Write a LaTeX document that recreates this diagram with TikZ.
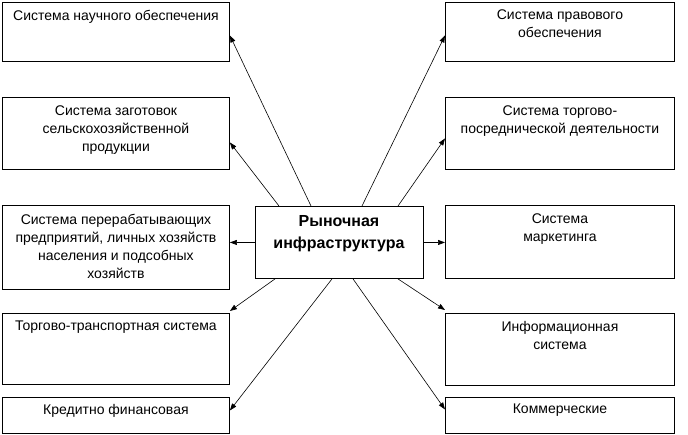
\documentclass[tikz,border=0pt]{standalone}
\usepackage{fontspec}
\setmainfont{Liberation Sans}
\usetikzlibrary{arrows.meta}
\begin{document}
\begin{tikzpicture}[x=1pt,y=-1pt,
  box/.style={draw=black,line width=0.9pt,inner sep=0pt,anchor=north west},
  lbl/.style={anchor=north,inner sep=0pt,align=center,font=\fontsize{14}{18}\selectfont},
  conn/.style={line width=0.6pt,-{Triangle[length=7pt,width=5pt]}}]
\useasboundingbox (0,0) rectangle (688,434);
% left boxes
\node[box,minimum width=227pt,minimum height=59pt] (l1) at (2,2) {};
\node[box,minimum width=227pt,minimum height=72pt] (l2) at (2,97) {};
\node[box,minimum width=227pt,minimum height=84pt] (l3) at (2,205) {};
\node[box,minimum width=227pt,minimum height=71pt] (l4) at (2,313) {};
\node[box,minimum width=227pt,minimum height=36pt] (l5) at (2,397) {};
% right boxes
\node[box,minimum width=229pt,minimum height=59pt] (r1) at (445,2) {};
\node[box,minimum width=229pt,minimum height=72pt] (r2) at (445,97) {};
\node[box,minimum width=229pt,minimum height=73pt] (r3) at (445,205) {};
\node[box,minimum width=229pt,minimum height=72pt] (r4) at (445,313) {};
\node[box,minimum width=229pt,minimum height=36pt] (r5) at (445,397) {};
% centre
\node[box,minimum width=168pt,minimum height=72pt] (c) at (254.5,206) {};
\node[anchor=north,inner sep=0pt,align=center,font=\fontsize{16}{22}\selectfont\bfseries] (ct) at ([yshift=-9pt]c.north) {Рыночная\\инфраструктура};
% texts
\node[lbl] (tl1) at ([yshift=-8pt]l1.north) {Система научного обеспечения};
\node[lbl] (tl2) at ([yshift=-9pt]l2.north) {Система заготовок\\сельскохозяйственной\\продукции};
\node[lbl] (tl3) at ([yshift=-9pt]l3.north) {Система перерабатывающих\\предприятий, личных хозяйств\\населения и подсобных\\хозяйств};
\node[lbl] (tl4) at ([yshift=-8pt]l4.north) {Торгово-транспортная система};
\node[lbl] (tl5) at ([yshift=-7pt]l5.north) {Кредитно финансовая};
\node[lbl] (tr1) at ([yshift=-8pt]r1.north) {Система правового\\обеспечения};
\node[lbl] (tr2) at ([yshift=-9pt]r2.north) {Система торгово-\\посреднической деятельности};
\node[lbl] (tr3) at ([yshift=-9pt]r3.north) {Система\\маркетинга};
\node[lbl] (tr4) at ([yshift=-8pt]r4.north) {Информационная\\система};
\node[lbl] (tr5) at ([yshift=-7pt]r5.north) {Коммерческие};
% connectors
\draw[conn] ([xshift=56.5pt]c.north west) -- ([yshift=-3.5pt]l1.east);
\draw[conn] ([xshift=24.5pt]c.north west) -- ([yshift=-9pt]l2.east);
\draw[conn] (c.west) -- (c.west -| l3.east);
\draw[conn] ([xshift=20.5pt]c.south west) -- ([yshift=2pt]l4.north east);
\draw[conn] ([xshift=77.5pt]c.south west) -- ([yshift=5pt]l5.east);
\draw[conn] ([xshift=107.5pt]c.north west) -- ([yshift=-3.5pt]r1.west);
\draw[conn] ([xshift=143.5pt]c.north west) -- ([yshift=-5pt]r2.west);
\draw[conn] (c.east) -- (c.east -| r3.west);
\draw[conn] ([xshift=143.5pt]c.south west) -- ([yshift=3pt]r4.north west);
\draw[conn] ([xshift=98.5pt]c.south west) -- ([yshift=6pt]r5.west);
\end{tikzpicture}
\end{document}
